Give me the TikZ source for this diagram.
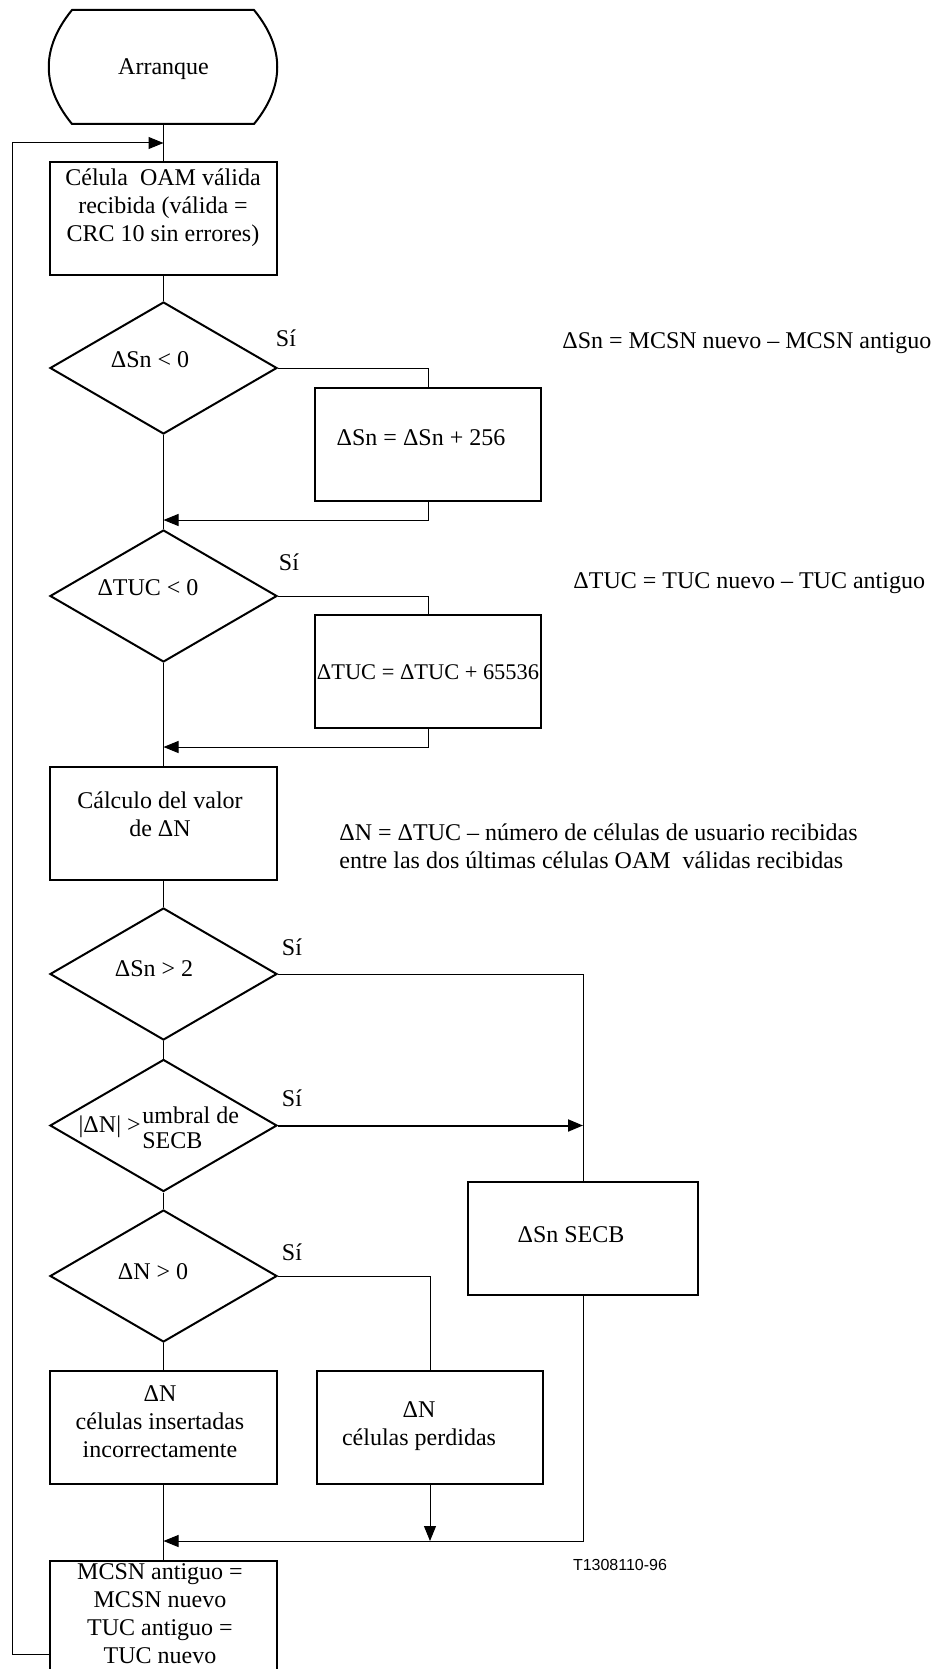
\documentclass[tikz,border=0pt]{standalone}
\usepackage{fontspec}
\setmainfont{Liberation Serif}
\newfontfamily\labsans{Liberation Sans}
\usetikzlibrary{shapes.geometric,arrows.meta}
\begin{document}
\begin{tikzpicture}[x=0.5pt,y=-0.5pt,
  box/.style={draw,line width=1pt,minimum width=113.5pt,minimum height=56.5pt,inner sep=0},
  sbox/.style={draw,line width=1pt,minimum width=113pt,minimum height=56.5pt,inner sep=0},
  dec/.style={draw,diamond,line width=1pt,minimum width=113.5pt,minimum height=66pt,inner sep=0},
  txt/.style={inner sep=0,align=center,font=\fontsize{12pt}{14pt}\selectfont},
  conn/.style={line width=0.5pt},
  arr/.style={conn,-{Triangle[length=7.5pt,width=6pt]}},
]
\clip (0,0) rectangle (939,1669);

% terminal
\draw[line width=1pt] (72,10) -- (254,10) .. controls (285,48) and (285,86) .. (254,124)
  -- (72,124) .. controls (41,86) and (41,48) .. (72,10) -- cycle;
\node[inner sep=0,minimum width=113.5pt,minimum height=57pt] (start) at (163.5,67) {};
\node[txt] (tstart) at (163.5,69) {Arranque};

% main column
\node[box] (b1) at (163.5,218.5) {};
\node[txt] (t1) at (163,208) {Célula~ OAM válida\\recibida (válida =\\CRC 10 sin errores)};

\node[dec] (d1) at (163.5,368) {};
\node[txt] (td1) at (150,360) {ΔSn < 0};
\node[txt] (s1) at (286,338) {Sí};

\node[sbox] (b2) at (428,444.5) {};
\node[txt] (t2) at (421,438) {ΔSn = ΔSn + 256};

\node[dec] (d2) at (163.5,596) {};
\node[txt] (td2) at (148,588) {ΔTUC < 0};
\node[txt] (s2) at (289,562) {Sí};

\node[sbox] (b3) at (428,671.5) {};
\node[txt,font=\fontsize{11.2pt}{14pt}\selectfont] (t3) at (428,672) {ΔTUC = ΔTUC + 65536};

\node[box] (b4) at (163.5,823.5) {};
\node[txt] (t4) at (160,814) {Cálculo del valor\\de ΔN};

\node[dec] (d3) at (163.5,974) {};
\node[txt] (td3) at (154,969) {ΔSn > 2};
\node[txt] (s3) at (292,947) {Sí};

\node[dec] (d4) at (163.5,1125.5) {};
\node[txt,anchor=east] (td4a) at (141,1127) {|ΔN| >};
\node[txt,anchor=west,align=left,font=\fontsize{12pt}{12.5pt}\selectfont] (td4b) at (142,1127.5) {umbral de\\SECB};
\node[txt] (s4) at (292,1098) {Sí};

\node[draw,line width=1pt,minimum width=115pt,minimum height=56.5pt,inner sep=0] (b5) at (583,1238.5) {};
\node[txt] (t5) at (571,1235) {ΔSn SECB};

\node[dec] (d5) at (163.5,1276) {};
\node[txt] (td5) at (153,1272) {ΔN > 0};
\node[txt] (s5) at (292,1252) {Sí};

\node[box] (b6) at (163.5,1427.5) {};
\node[txt] (t6) at (160,1422) {ΔN\\células insertadas\\incorrectamente};

\node[sbox] (b7) at (430,1427.5) {};
\node[txt] (t7) at (419,1426) {ΔN\\células perdidas};

\node[box] (b8) at (163.5,1617.5) {};
\node[txt] (t8) at (160,1614) {MCSN antiguo =\\MCSN nuevo\\TUC antiguo =\\TUC nuevo};

% side notes
\node[txt,anchor=west] (n1) at (562,343) {ΔSn = MCSN nuevo – MCSN antiguo};
\node[txt,anchor=west] (n2) at (573,583) {ΔTUC = TUC nuevo – TUC antiguo};
\node[txt,anchor=west,align=left] (n3) at (339,846.5) {ΔN = ΔTUC – número de células de usuario recibidas\\entre las dos últimas células OAM~ válidas recibidas};
\node[inner sep=0,font=\labsans\fontsize{8pt}{9.6pt}\selectfont] (code) at (620,1565) {T1308110-96};

% coordinates
\coordinate (m1) at (163.5,520);
\coordinate (m2) at (163.5,747);
\coordinate (m4) at (163.5,1541);
\coordinate (f0) at (50,1654);
\coordinate (fa) at (12,1654);
\coordinate (fb) at (12,143);
\coordinate (fc) at (163.5,143);

% main line
\draw[conn] (start.south) -- (b1.north);
\draw[conn] (b1.south) -- (d1.north);
\draw[conn] (d1.south) -- (d2.north);
\draw[conn] (d2.south) -- (b4.north);
\draw[conn] (b4.south) -- (d3.north);
\draw[conn] (d3.south) -- (d4.north);
\draw[conn] (d4.south) -- (d5.north);
\draw[conn] (d5.south) -- (b6.north);
\draw[conn] (b6.south) -- (b8.north);

% branches
\draw[conn] (d1.east) -| (b2.north);
\draw[arr] (b2.south) |- (m1);
\draw[conn] (d2.east) -| (b3.north);
\draw[arr] (b3.south) |- (m2);
\draw[conn] (d3.east) -| (b5.north);
\draw[arr,line width=1pt] (d4.east) -- (d4.east -| b5.north);
\draw[conn] (d5.east) -| (b7.north);
\draw[arr] (b7.south) -- (b7.south |- m4);
\draw[arr] (b5.south) |- (m4);

% feedback
\draw[arr] (f0) -- (fa) -- (fb) -- (fc);
\end{tikzpicture}
\end{document}
